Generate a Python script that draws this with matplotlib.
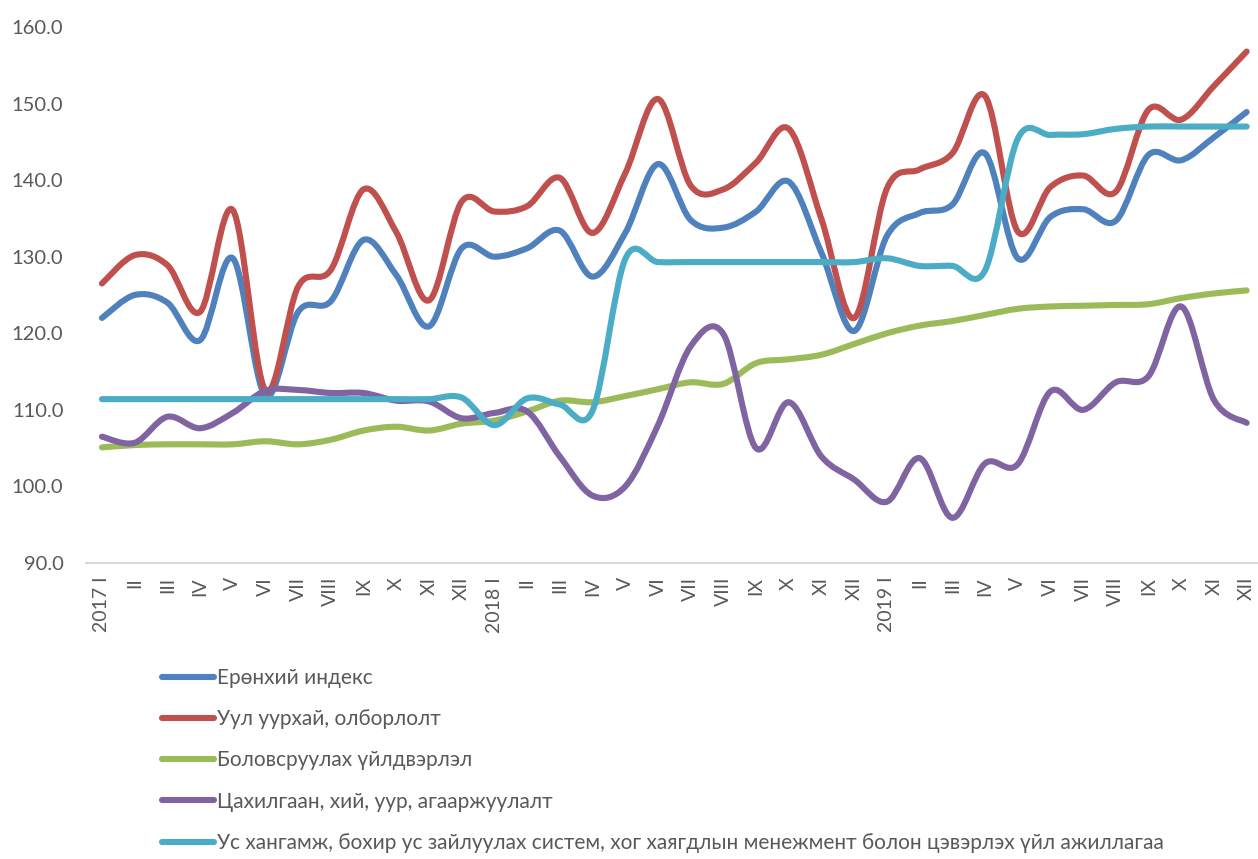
import numpy as np
import matplotlib.pyplot as plt
from matplotlib.path import Path
from matplotlib.patches import PathPatch
from matplotlib.lines import Line2D

plt.rcParams['font.family'] = ['Lato', 'DejaVu Sans']

months = ['I', 'II', 'III', 'IV', 'V', 'VI', 'VII', 'VIII', 'IX', 'X', 'XI', 'XII']
years = ['2017', '2018', '2019']
tick_labels = []
for yr in years:
    for k, m in enumerate(months):
        tick_labels.append(f'{yr} {m}' if k == 0 else m)

general = [122.0, 125.0, 124.0, 119.1, 129.8, 111.8, 122.8, 124.2, 132.2, 127.6, 120.9, 131.1,
           130.0, 131.1, 133.4, 127.4, 133.1, 142.1, 134.8, 133.8, 135.9, 139.8, 130.5, 120.3,
           132.7, 135.7, 136.8, 143.5, 129.8, 135.2, 136.2, 134.7, 143.3, 142.6, 145.6, 148.9]
mining = [126.5, 130.2, 128.9, 122.8, 136.1, 112.5, 126.1, 128.3, 138.8, 133.2, 124.3, 137.2,
          135.9, 136.6, 140.3, 133.1, 140.9, 150.6, 139.3, 138.8, 142.3, 146.7, 134.9, 122.0,
          138.9, 141.4, 143.5, 151.0, 133.3, 139.1, 140.6, 138.5, 149.2, 147.9, 152.3, 156.8]
manufacturing = [105.1, 105.4, 105.5, 105.5, 105.5, 105.9, 105.5, 106.1, 107.3, 107.8, 107.3, 108.2,
                 108.6, 109.8, 111.2, 111.0, 111.8, 112.7, 113.6, 113.4, 116.1, 116.6, 117.2, 118.6,
                 120.0, 121.0, 121.6, 122.4, 123.2, 123.5, 123.6, 123.7, 123.8, 124.6, 125.2, 125.6]
electricity = [106.5, 105.7, 109.1, 107.6, 109.6, 112.5, 112.6, 112.2, 112.2, 111.2, 111.1, 108.9,
               109.6, 109.8, 103.9, 98.8, 100.0, 108.0, 118.3, 119.9, 105.0, 111.0, 103.9, 100.9,
               98.0, 103.7, 95.9, 103.0, 102.9, 112.4, 110.0, 113.6, 114.4, 123.5, 111.3, 108.3]
water = [111.4, 111.4, 111.4, 111.4, 111.4, 111.4, 111.4, 111.4, 111.4, 111.4, 111.4, 111.6,
         108.0, 111.5, 110.7, 109.9, 129.7, 129.3, 129.3, 129.3, 129.3, 129.3, 129.3, 129.3,
         129.8, 128.8, 128.8, 128.2, 145.4, 145.9, 146.0, 146.7, 147.0, 147.0, 147.0, 147.0]

series = [
    ('Ерөнхий индекс', general, '#4f81bd'),
    ('Уул уурхай, олборлолт', mining, '#c0504d'),
    ('Боловсруулах үйлдвэрлэл', manufacturing, '#9bbb59'),
    ('Цахилгаан, хий, уур, агааржуулалт', electricity, '#8064a2'),
    ('Ус хангамж, бохир ус зайлуулах систем, хог хаягдлын менежмент болон цэвэрлэх үйл ажиллагаа',
     water, '#4bacc6'),
]


def smooth_path(xs, ys):
    # Excel-style smoothed line: cubic Bezier segments with Catmull-Rom tangents
    pts = np.column_stack([xs, ys]).astype(float)
    n = len(pts)
    verts = [pts[0]]
    codes = [Path.MOVETO]
    for i in range(n - 1):
        p_prev = pts[i - 1] if i > 0 else pts[i]
        p_next2 = pts[i + 2] if i + 2 < n else pts[i + 1]
        c1 = pts[i] + (pts[i + 1] - p_prev) / 6.0
        c2 = pts[i + 1] - (p_next2 - pts[i]) / 6.0
        verts += [c1, c2, pts[i + 1]]
        codes += [Path.CURVE4] * 3
    return Path(verts, codes)


fig = plt.figure(figsize=(12.58, 8.59), dpi=100)
ax = fig.add_axes([85.6 / 1258, 1 - 563 / 859, (1263 - 85.6) / 1258, (563 - 27) / 859])

x = np.arange(len(tick_labels))
handles = []
for name, vals, col in series:
    patch = PathPatch(smooth_path(x, vals), facecolor='none', edgecolor=col, lw=4.4,
                      capstyle='round', joinstyle='round')
    ax.add_patch(patch)
    handles.append(Line2D([], [], color=col, lw=4.4, solid_capstyle='round', label=name))

ax.set_xlim(-0.5, len(x) - 0.5)
ax.set_ylim(90, 160)
ax.set_yticks(np.arange(90, 161, 10))
ax.set_yticklabels([f'{v:.1f}' for v in np.arange(90, 161, 10)])
ax.set_xticks(x)
ax.set_xticklabels(tick_labels, rotation=90, va='top', ha='center')

for s in ['top', 'right', 'left']:
    ax.spines[s].set_visible(False)
ax.spines['bottom'].set_color('#d9d9d9')
ax.spines['bottom'].set_linewidth(1.5)
ax.tick_params(axis='both', length=0, colors='#595959', labelsize=14)
ax.tick_params(axis='y', labelsize=14.5, pad=16)
ax.tick_params(axis='x', pad=10)

fig.legend(handles=handles, loc='upper left', bbox_to_anchor=(162 / 1258, 1 - 668 / 859),
           frameon=False, ncol=1, fontsize=15, handlelength=2.5, handletextpad=0.15,
           borderpad=0, borderaxespad=0, labelspacing=1.02, labelcolor='#595959')

fig.savefig('out.png', dpi=100)
